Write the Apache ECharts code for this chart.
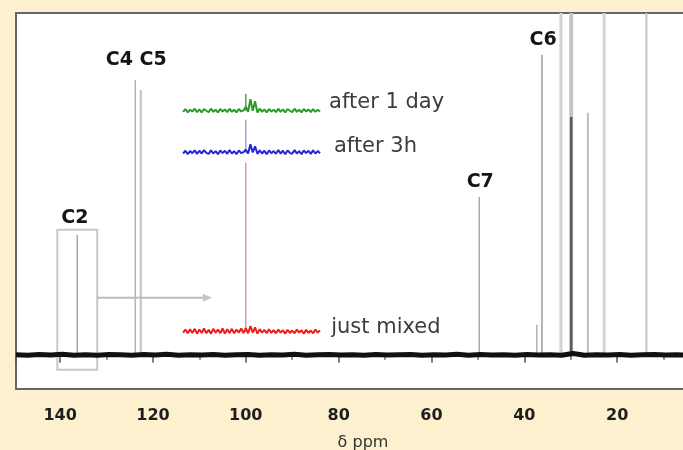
<!DOCTYPE html>
<html><head><meta charset="utf-8">
<script src="https://cdn.jsdelivr.net/npm/echarts@6/dist/echarts.min.js"></script>
<style>html,body{margin:0;padding:0;background:#fdf0cf;}#c{width:683px;height:450px;}</style>
</head><body><div id="c"></div>
<script>
// ---- data ----
const tickLabels = [140, 120, 100, 80, 60, 40, 20];
const peakPpm    = [136.3, 123.8, 122.6, 49.7, 37.3, 36.2, 32.1, 29.9, 29.9, 26.3, 22.8, 13.7];
const peakHeight = [35.1, 80.5, 77.5, 46.2, 8.8, 87.8, 100, 100, 69.6, 70.8, 100, 100];

const baselinePpm = [149.5,147,144.5,142,139.5,137,134.5,132,129.5,127,124.5,122,119.5,117,114.5,112,109.5,107,104.5,102,99.5,97,94.5,92,89.5,87,84.5,82,79.5,77,74.5,72,69.5,67,64.5,62,59.5,57,54.5,52,49.5,47,44.5,42,39.5,37,34.5,32,29.5,27,24.5,22,19.5,17,14.5,12,9.5,7,4.5,2,0];
const baselineVal = [0.05,-0.1,0.1,-0.05,0.15,-0.1,0.05,-0.15,0.1,0,-0.1,0.1,-0.05,0.15,-0.1,0.05,-0.05,0.1,-0.15,0.05,0.1,-0.1,0.05,-0.05,0.15,-0.1,0,0.1,-0.05,0.05,-0.15,0.1,-0.05,0.05,0.1,-0.1,0.05,-0.05,0.15,-0.1,0.1,-0.05,0.05,-0.1,0.1,-0.05,0.05,-0.15,0.4,-0.1,0.05,-0.05,0.1,-0.1,0.05,0.1,-0.05,0.05,-0.1,0.05,0];

const insetPpm = [113.5,113,112.5,112,111.5,111,110.5,110,109.5,109,108.5,108,107.5,107,106.5,106,105.5,105,104.5,104,103.5,103,102.5,102,101.5,101,100.5,100,99.5,99,98.5,98,97.5,97,96.5,96,95.5,95,94.5,94,93.5,93,92.5,92,91.5,91,90.5,90,89.5,89,88.5,88,87.5,87,86.5,86,85.5,85,84.5,84];
const greenVal = [71.1,71.9,70.9,71.7,71.2,72.0,71.0,71.8,70.9,71.9,71.4,71.0,72.0,71.1,71.7,70.9,71.9,71.2,71.8,71.0,72.0,71.1,71.7,70.9,71.9,71.2,71.5,72.6,71.1,74.8,71.4,74.2,70.9,72.0,71.1,71.8,70.9,71.9,71.2,71.7,71.0,72.0,71.1,71.8,70.9,71.9,71.4,71.0,72.0,71.1,71.7,70.9,71.9,71.2,71.8,71.0,71.9,71.1,71.7,71.2];
const blueVal  = [58.9,59.7,58.7,59.6,59.0,59.8,58.8,59.7,58.9,59.9,59.1,58.8,59.8,58.9,59.6,58.7,59.8,59.0,59.7,58.8,59.9,58.9,59.6,58.7,59.8,59.0,59.3,60.0,58.9,61.6,59.2,61.0,58.8,59.8,58.9,59.7,58.7,59.8,59.0,59.6,58.8,59.9,58.9,59.7,58.7,59.8,59.1,58.8,59.9,58.9,59.6,58.7,59.8,59.0,59.7,58.8,59.8,58.9,59.6,59.0];
const redVal   = [6.5,7.4,6.3,7.5,6.4,7.6,6.2,7.4,6.4,7.7,6.3,7.3,6.2,7.6,6.5,7.4,6.3,7.7,6.2,7.5,6.4,7.6,6.3,7.4,6.5,7.7,6.4,7.8,6.3,8.4,6.5,8.0,6.2,7.5,6.5,7.3,6.3,7.5,6.4,7.2,6.3,7.4,6.5,7.2,6.2,7.3,6.4,7.1,6.3,7.4,6.5,7.2,6.2,7.3,6.4,7.1,6.3,7.4,6.5,7.1];
// inset main resonance: [ppm, from, to]
const greenSpike = [100, 71.4, 76.4];
const blueSpike  = [100, 59.1, 68.8];
const redSpike   = [100, 6.7, 56.2];

const peakLabels   = ['C4 C5', 'C6', 'C7', 'C2'];
const peakLabelPpm = [123.6, 35.95, 49.5, 136.8];
const peakLabelY   = [86.3, 92.2, 50.6, 40.0];
const traceLabels   = ['after 1 day', 'after 3h', 'just mixed'];
const traceLabelPpm = [82.05, 81.0, 81.6];
const traceLabelY   = [73.7, 60.9, 7.9];

const zoomBoxPpm = [140.6, 132.0];
const zoomBoxY   = [36.6, -4.4];
const arrowPpm   = [132.0, 107.3];
const arrowY     = 16.7;

// ---- styles (not data) ----
const peakStyle = [
  {c:'#a4a4a4', w:1.5}, {c:'#b4b4b4', w:1.5}, {c:'#cacaca', w:2.5}, {c:'#a8a8a8', w:1.5},
  {c:'#b0b0b0', w:1.5}, {c:'#b4b4b4', w:2}, {c:'#d2d2d2', w:3}, {c:'#c4c4c4', w:4},
  {c:'#5a5a5a', w:2.5}, {c:'#bcbcbc', w:2}, {c:'#d4d4d4', w:3}, {c:'#c4c4c4', w:2}
];

const zip = (a, b) => a.slice(0, Math.min(a.length, b.length)).map((v, i) => [v, b[i]]);

const chart = echarts.init(document.getElementById('c'), null, {renderer: 'canvas'});

function spikeSeries(sp, color) {
  return {
    type: 'custom', z: 4, silent: true,
    data: [sp],
    renderItem(params, api) {
      const a = api.coord([api.value(0), api.value(1)]);
      const b = api.coord([api.value(0), api.value(2)]);
      return {type: 'line', shape: {x1: a[0], y1: a[1], x2: b[0], y2: b[1]}, style: {stroke: color, lineWidth: 1.5}};
    }
  };
}
function traceSeries(vals, color) {
  return {
    type: 'line', z: 5, silent: true, showSymbol: false, animation: false,
    data: zip(insetPpm, vals),
    lineStyle: {color: color, width: 2}
  };
}

chart.setOption({
  animation: false,
  backgroundColor: '#fdf0cf',
  grid: {left: 16, right: -27, top: 13, bottom: 61, outerBoundsMode: 'none', containLabel: false,
         show: true, backgroundColor: '#ffffff', borderColor: '#666666', borderWidth: 2},
  xAxis: {
    type: 'value', min: 0, max: 149.5, interval: 20, inverse: true,
    axisLine: {show: true, lineStyle: {color: '#666666', width: 2}},
    axisTick: {show: true, length: 8, lineStyle: {color: '#555555', width: 1.5}},
    minorTick: {show: true, splitNumber: 2, length: 5, lineStyle: {color: '#666666', width: 1.5}},
    splitLine: {show: false},
    axisLabel: {
      margin: 19, color: '#1e1e1e', fontFamily: 'DejaVu Sans', fontWeight: 'bold', fontSize: 16,
      formatter: v => tickLabels.indexOf(v) >= 0 ? String(v) : ''
    },
    name: 'δ ppm', nameLocation: 'middle', nameGap: 46,
    nameTextStyle: {color: '#333333', fontFamily: 'DejaVu Sans', fontSize: 16}
  },
  yAxis: {type: 'value', min: -10, max: 100, show: false, splitLine: {show: false}},
  series: [
    {
      type: 'custom', z: 2, silent: true,
      data: zip(peakPpm, peakHeight),
      renderItem(params, api) {
        const a = api.coord([api.value(0), 0]);
        const b = api.coord([api.value(0), api.value(1)]);
        const st = peakStyle[params.dataIndex];
        return {type: 'line', shape: {x1: a[0], y1: a[1], x2: b[0], y2: b[1]}, style: {stroke: st.c, lineWidth: st.w}};
      }
    },
    {
      type: 'line', z: 3, silent: true, showSymbol: false,
      data: zip(baselinePpm, baselineVal),
      lineStyle: {color: '#111111', width: 5}
    },
    {
      type: 'custom', z: 3, silent: true,
      data: [[zoomBoxPpm[0], zoomBoxY[0], zoomBoxPpm[1], zoomBoxY[1]]],
      renderItem(params, api) {
        const p1 = api.coord([api.value(0), api.value(1)]);
        const p2 = api.coord([api.value(2), api.value(3)]);
        const a1 = api.coord([arrowPpm[0], arrowY]);
        const a2 = api.coord([arrowPpm[1], arrowY]);
        return {type: 'group', children: [
          {type: 'rect', shape: {x: p1[0], y: p1[1], width: p2[0] - p1[0], height: p2[1] - p1[1]}, style: {fill: null, stroke: '#c8c8c8', lineWidth: 2}},
          {type: 'line', shape: {x1: a1[0], y1: a1[1], x2: a2[0] - 4, y2: a2[1]}, style: {stroke: '#bdbdbd', lineWidth: 2}},
          {type: 'polygon', shape: {points: [[a2[0], a2[1]], [a2[0] - 9, a2[1] - 4], [a2[0] - 9, a2[1] + 4]]}, style: {fill: '#c4c4c4'}}
        ]};
      }
    },
    spikeSeries(redSpike, '#e49a9a'),
    spikeSeries(blueSpike, '#a0a0dc'),
    spikeSeries(greenSpike, '#4aa84a'),
    traceSeries(greenVal, '#2a9a2a'),
    traceSeries(blueVal, '#2626d8'),
    traceSeries(redVal, '#f01c1c'),
    {
      type: 'custom', z: 6, silent: true,
      data: peakLabels.map((t, i) => [peakLabelPpm[i], peakLabelY[i], i]),
      renderItem(params, api) {
        const p = api.coord([api.value(0), api.value(1)]);
        return {type: 'text', x: p[0], y: p[1], style: {text: peakLabels[params.dataIndex], fill: '#151515', font: 'bold 19px "DejaVu Sans"', align: 'center', verticalAlign: 'middle'}};
      }
    },
    {
      type: 'custom', z: 6, silent: true,
      data: traceLabels.map((t, i) => [traceLabelPpm[i], traceLabelY[i], i]),
      renderItem(params, api) {
        const p = api.coord([api.value(0), api.value(1)]);
        return {type: 'text', x: p[0], y: p[1], style: {text: traceLabels[params.dataIndex], fill: '#3c3c3c', font: '21px "DejaVu Sans"', align: 'left', verticalAlign: 'middle'}};
      }
    }
  ]
});
</script></body></html>
